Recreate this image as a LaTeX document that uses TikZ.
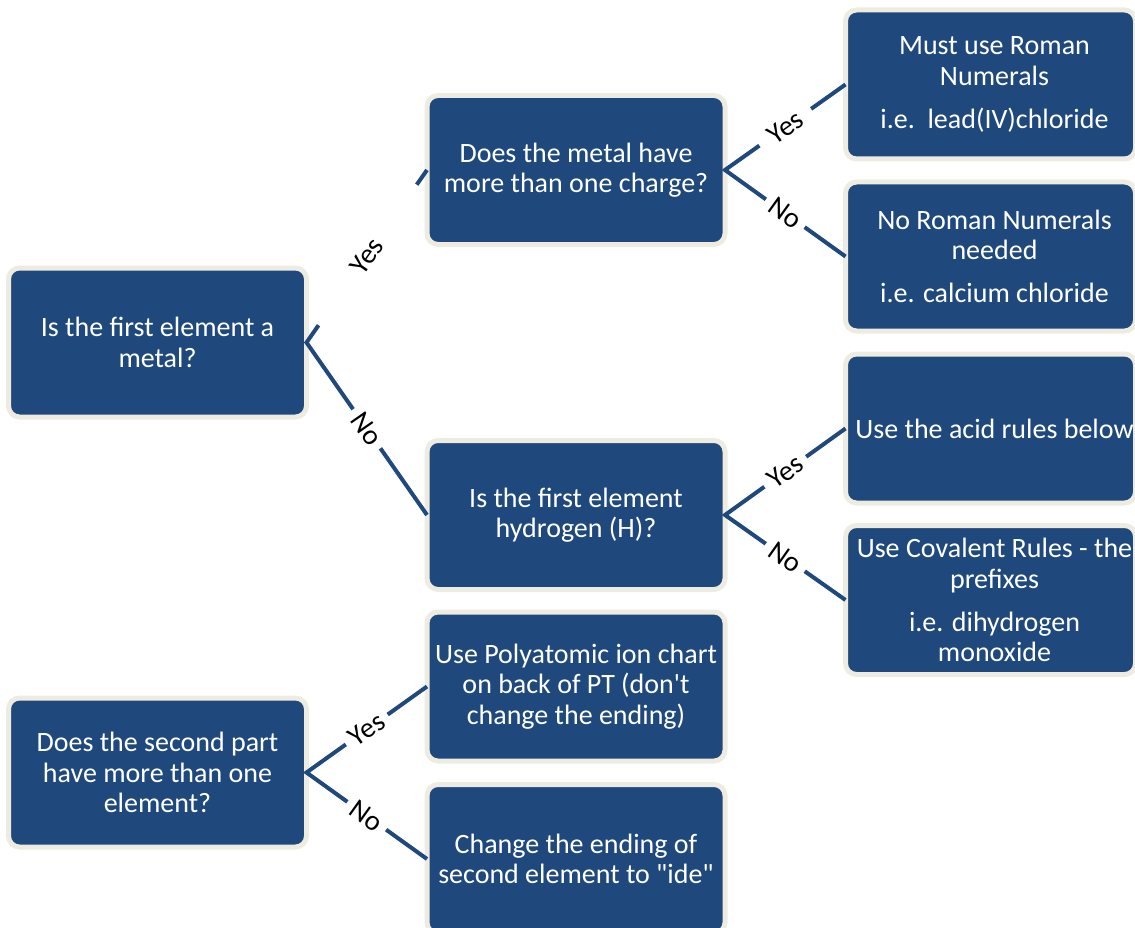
\documentclass[tikz,border=0pt]{standalone}
\usepackage{fontspec}
\newfontfamily\cf{Carlito}
\usetikzlibrary{calc}
\definecolor{boxblue}{HTML}{1F497D}
\definecolor{rim}{HTML}{EEECE1}
\begin{document}
\begin{tikzpicture}[x=1pt,y=-1pt,
  box/.style={draw=rim, fill=boxblue, line width=5pt, rounded corners=11pt,
    minimum width=298pt, minimum height=149pt, inner sep=0pt, outer sep=0pt,
    text=white, align=center, font=\cf\fontsize{28}{30.5}\selectfont},
  rbox/.style={box, minimum width=290pt},
  btxt/.style={text=white, align=center, inner sep=0pt, font=\cf\fontsize{28}{30.5}\selectfont},
  conn/.style={draw=boxblue, line width=4pt, line join=miter},
  lab/.style={sloped, fill=white, text=black, inner xsep=7pt, inner ysep=1pt,
    font=\cf\fontsize{28.5}{30}\selectfont}
]
\useasboundingbox (0,0) rectangle (1135,928);

% first tree
\node[box] (metalq) at (157.5,342.5) {Is the first element a\\metal?};
\node[box] (charge) at (576,170) {Does the metal have\\more than one charge?};
\node[box] (hydro) at (576,515) {Is the first element\\hydrogen (H)?};
\node[rbox] (roman) at (990.5,84.5) {};
\node[btxt] (romant) at ([xshift=4pt]roman.center) {Must use Roman\\Numerals\\[12.5pt]i.e.\ \ lead(IV)chloride};
\node[rbox] (noroman) at (990.5,256.5) {};
\node[btxt] (noromant) at ([xshift=4pt]noroman.center) {No Roman Numerals\\needed\\[12.5pt]i.e. calcium chloride};
\node[rbox] (acid) at (990.5,428.5) {};
\node[btxt] (acidt) at ([xshift=4pt]acid.center) {Use the acid rules below};
\node[rbox] (coval) at (990.5,600) {};
\node[btxt] (covalt) at ([xshift=4pt]coval.center) {Use Covalent Rules - the\\prefixes\\[12.5pt]i.e. dihydrogen\\monoxide};

% second tree
\node[box] (second) at (157.5,772.5) {Does the second part\\have more than one\\element?};
\node[box] (poly) at (576,686.5) {Use Polyatomic ion chart\\on back of PT (don't\\change the ending)};
\node[box] (ide) at (576,859) {Change the ending of\\second element to "ide"};

% connectors
\draw[conn] ($(metalq.east)!0.1!(charge.west)$) -- (metalq.east) -- node[lab] {No} (hydro.west);
\draw[conn] ($(metalq.east)!0.915!(charge.west)$) -- (charge.west);
\path (metalq.east) -- node[lab, fill=none] {Yes} (charge.west);

\draw[conn] (roman.west) -- node[lab, inner xsep=13pt] {Yes} (charge.east) -- node[lab] {No} (noroman.west);
\draw[conn] (acid.west) -- node[lab] {Yes} (hydro.east) -- node[lab] {No} (coval.west);
\draw[conn] (poly.west) -- node[lab] {Yes} (second.east) -- node[lab] {No} (ide.west);
\end{tikzpicture}
\end{document}
